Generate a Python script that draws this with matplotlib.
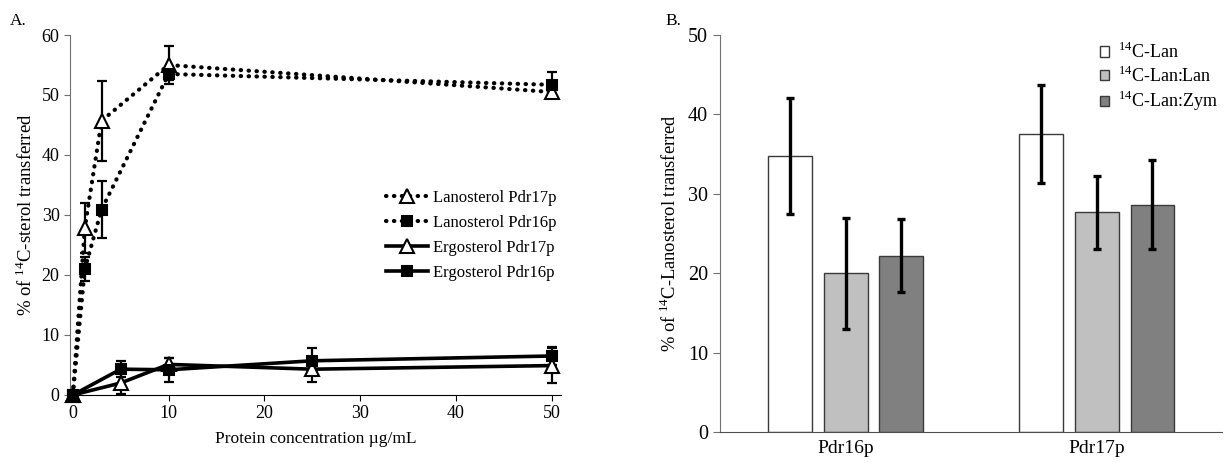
import matplotlib

matplotlib.use("Agg")
import matplotlib.pyplot as plt

plt.rcParams["font.family"] = ["Liberation Serif", "DejaVu Serif"]
plt.rcParams["mathtext.fontset"] = "custom"
plt.rcParams["mathtext.rm"] = "Liberation Serif"

# --- panel A data ---
lan17_x = [0, 1.25, 3, 10, 50]
lan17_y = [0, 27.8, 45.7, 55.0, 50.5]
lan17_err = [0, 4.2, 6.7, 3.2, 1.0]

lan16_x = [0, 1.25, 3, 10, 50]
lan16_y = [0, 21.0, 30.9, 53.5, 51.7]
lan16_err = [0, 2.0, 4.7, 1.0, 2.2]

erg17_x = [0, 5, 10, 25, 50]
erg17_y = [0, 2.0, 5.1, 4.3, 4.9]
erg17_err = [0, 1.8, 1.0, 2.1, 2.9]

erg16_x = [0, 5, 10, 25, 50]
erg16_y = [0, 4.3, 4.2, 5.7, 6.5]
erg16_err = [0, 1.3, 2.0, 2.2, 1.5]

# --- panel B data ---
groups = ["Pdr16p", "Pdr17p"]
bar_labels = ["$^{14}$C-Lan", "$^{14}$C-Lan:Lan", "$^{14}$C-Lan:Zym"]
bar_vals = [[34.8, 37.5], [20.0, 27.7], [22.2, 28.6]]
bar_errs = [[7.3, 6.2], [7.0, 4.6], [4.6, 5.6]]
bar_colors = ["white", "#c0c0c0", "#808080"]

fig = plt.figure(figsize=(12.25, 4.63), dpi=100)

# ---------------- Panel A ----------------
ax = fig.add_axes([0.0571, 0.1469, 0.401, 0.7775])
dot = (0, (0.1, 1.8))
series = [
    (lan17_x, lan17_y, lan17_err, dot, "^", "white", "Lanosterol Pdr17p"),
    (lan16_x, lan16_y, lan16_err, dot, "s", "black", "Lanosterol Pdr16p"),
    (erg17_x, erg17_y, erg17_err, "-", "^", "white", "Ergosterol Pdr17p"),
    (erg16_x, erg16_y, erg16_err, "-", "s", "black", "Ergosterol Pdr16p"),
]
for xs, ys, es, ls, mk, mfc, lab in series:
    ax.errorbar(xs, ys, yerr=es, fmt="none", ecolor="black", elinewidth=1.6,
                capsize=3.5, capthick=1.6, zorder=2, clip_on=False)
    ms = 10 if mk == "^" else 7
    lw = 3.0 if ls == dot else 2.6
    (ln,) = ax.plot(xs, ys, color="black", linestyle=ls, linewidth=lw,
                    marker=mk, markersize=ms, markerfacecolor=mfc,
                    markeredgecolor="black", markeredgewidth=1.5,
                    label=lab, zorder=3, clip_on=False)
    ln.set_dash_capstyle("round")

ax.set_xlim(-0.3, 51)
ax.set_ylim(0, 60)
ax.set_yticks(range(0, 61, 10))
ax.set_xticks(range(0, 51, 10))
ax.spines["top"].set_visible(False)
ax.spines["right"].set_visible(False)
ax.spines["left"].set_color("#707070")
ax.tick_params(axis="both", direction="out", labelsize=13, length=4)
ax.tick_params(axis="y", colors="#707070", labelcolor="black")
ax.set_xlabel("Protein concentration µg/mL", fontsize=12.5, labelpad=6)
ax.set_ylabel("% of $^{14}$C-sterol transferred", fontsize=13.5, labelpad=4)
ax.legend(loc="upper left", bbox_to_anchor=(0.31, 0.605),
          bbox_transform=fig.transFigure, frameon=False, fontsize=12,
          handlelength=2.5, handletextpad=0.3, labelspacing=0.55,
          borderaxespad=0)
fig.text(0.008, 0.945, "A.", fontsize=12.5)

# ---------------- Panel B ----------------
bx = fig.add_axes([0.5878, 0.067, 0.41, 0.8574])
width = 0.175
pitch = 0.222
for i in range(len(bar_labels)):
    pos = [g + (i - 1) * pitch for g in range(len(groups))]
    bx.bar(pos, bar_vals[i], width=width, color=bar_colors[i],
           edgecolor="#3a3a3a", linewidth=1.0, label=bar_labels[i], zorder=2)
    bx.errorbar(pos, bar_vals[i], yerr=bar_errs[i], fmt="none",
                ecolor="black", elinewidth=2.4, capsize=3, capthick=2.4,
                zorder=3)

bx.set_xlim(-0.5, 1.5)
bx.set_ylim(0, 50)
bx.set_yticks(range(0, 51, 10))
bx.set_xticks(range(len(groups)))
bx.set_xticklabels(groups)
bx.spines["top"].set_visible(False)
bx.spines["right"].set_visible(False)
bx.spines["left"].set_color("#707070")
bx.spines["bottom"].set_color("#505050")
bx.tick_params(axis="y", direction="out", labelsize=14.5, length=5,
               colors="#707070", labelcolor="black")
bx.tick_params(axis="x", length=0, labelsize=14, pad=6)
bx.set_ylabel("% of $^{14}$C-Lanosterol transferred", fontsize=13.3,
              labelpad=6)
bx.legend(loc="upper left", bbox_to_anchor=(0.892, 0.925),
          bbox_transform=fig.transFigure, frameon=False, fontsize=13,
          handlelength=0.5, handleheight=0.5, handletextpad=0.5,
          labelspacing=0.2, borderaxespad=0)
fig.text(0.543, 0.945, "B.", fontsize=12.5)

fig.savefig("out.png", dpi=100)
